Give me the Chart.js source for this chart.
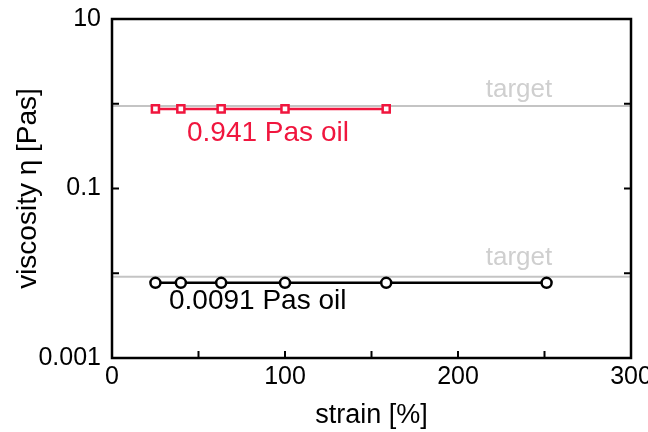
<!DOCTYPE html>
<html><head><meta charset="utf-8">
<script src="https://cdn.jsdelivr.net/npm/chart.js@4/dist/chart.umd.min.js"></script>
<style>html,body{margin:0;padding:0;background:#fff}#wrap{width:648px;height:432px}</style>
</head><body><div id="wrap"><canvas id="c" width="648" height="432"></canvas></div>
<script>
const strain = [25.1, 39.8, 63.1, 100, 158.5, 251.2];
const viscHigh = [0.87, 0.87, 0.87, 0.87, 0.87];
const viscLow = [0.0077, 0.0077, 0.0077, 0.0077, 0.0077, 0.0077];
const targetHigh = 0.941;
const targetLow = 0.0091;
const xRange = [0, 300];
const yTicks = [0.001, 0.01, 0.1, 1, 10];
const yLabeled = [0.001, 0.1, 10];
const xTicks = [0, 50, 100, 150, 200, 250, 300];
const xLabeled = [0, 100, 200, 300];

const RED = 'rgb(240,22,62)';
const FONT = 'Liberation Sans, Arial, sans-serif';

const pts = (xs, ys) => ys.map((y, i) => ({x: xs[i], y}));

const decor = {
  id: 'decor',
  afterDraw(chart) {
    const {ctx, chartArea: a, scales: {x, y}} = chart;
    ctx.save();
    ctx.strokeStyle = '#000';
    ctx.lineWidth = 2.5;
    ctx.strokeRect(a.left, a.top, a.right - a.left, a.bottom - a.top);
    ctx.lineWidth = 2;
    const L = 7;
    yTicks.forEach(v => {
      const py = y.getPixelForValue(v);
      ctx.beginPath();
      ctx.moveTo(a.left, py); ctx.lineTo(a.left + L, py);
      ctx.moveTo(a.right, py); ctx.lineTo(a.right - L, py);
      ctx.stroke();
    });
    xTicks.forEach(v => {
      const px = x.getPixelForValue(v);
      ctx.beginPath();
      ctx.moveTo(px, a.bottom); ctx.lineTo(px, a.bottom - L);
      ctx.stroke();
    });
    // annotations
    ctx.font = '28px ' + FONT;
    ctx.textBaseline = 'middle';
    ctx.textAlign = 'left';
    ctx.fillStyle = RED;
    ctx.fillText('0.941 Pas oil', 187, 133);
    ctx.fillStyle = '#000';
    ctx.fillText('0.0091 Pas oil', 169, 301);
    ctx.fillStyle = '#cfcfcf';
    ctx.font = '26px ' + FONT;
    ctx.textAlign = 'center';
    ctx.fillText('target', 519, 90);
    ctx.fillText('target', 519, 258);
    ctx.restore();
  }
};

new Chart(document.getElementById('c'), {
  type: 'scatter',
  data: {
    datasets: [
      {data: [{x: xRange[0], y: targetHigh}, {x: xRange[1], y: targetHigh}], showLine: true, borderColor: '#c4c4c4', borderWidth: 2, pointRadius: 0, order: 3},
      {data: [{x: xRange[0], y: targetLow}, {x: xRange[1], y: targetLow}], showLine: true, borderColor: '#c4c4c4', borderWidth: 2, pointRadius: 0, order: 3},
      {data: pts(strain, viscHigh), showLine: true, borderColor: RED, borderWidth: 2.5, pointStyle: 'rect', pointRadius: 5, pointBorderWidth: 2.5, pointBackgroundColor: '#fff', pointBorderColor: RED, order: 1},
      {data: pts(strain, viscLow), showLine: true, borderColor: '#000', borderWidth: 2.5, pointStyle: 'circle', pointRadius: 5, pointBorderWidth: 2.5, pointBackgroundColor: '#fff', pointBorderColor: '#000', order: 2}
    ]
  },
  options: {
    responsive: false,
    animation: false,
    layout: {padding: {top: 19, right: 17, left: 0, bottom: 0}},
    plugins: {legend: {display: false}, tooltip: {enabled: false}},
    scales: {
      x: {
        type: 'linear', min: xRange[0], max: xRange[1],
        grid: {display: false, drawTicks: false},
        border: {display: false},
        afterBuildTicks: s => { s.ticks = xLabeled.map(v => ({value: v})); },
        ticks: {color: '#000', font: {size: 25, family: FONT}, padding: 4, maxRotation: 0, autoSkip: false},
        title: {display: true, text: 'strain [%]', color: '#000', font: {size: 27, family: FONT}, padding: {top: 2, bottom: 0}},
        afterFit: s => { s.height = 74; s.paddingLeft = 0; s.paddingRight = 0; }
      },
      y: {
        type: 'logarithmic', min: 0.001, max: 10,
        grid: {display: false, drawTicks: false},
        border: {display: false},
        afterBuildTicks: s => { s.ticks = yLabeled.map(v => ({value: v})); },
        ticks: {color: '#000', font: {size: 25, family: FONT}, padding: 11, autoSkip: false,
          callback: v => String(v)},
        title: {display: true, text: 'viscosity η [Pas]', color: '#000', font: {size: 28, family: FONT}, padding: {top: 11, bottom: 0}},
        afterFit: s => { s.width = 112; s.paddingTop = 0; s.paddingBottom = 0; }
      }
    }
  },
  plugins: [decor]
});
</script></body></html>
